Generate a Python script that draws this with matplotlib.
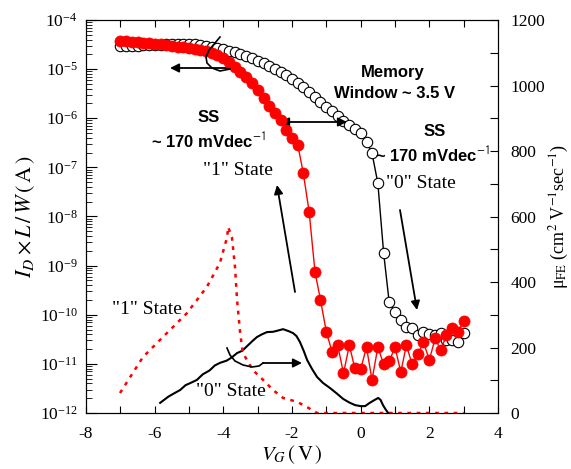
# Transfer curves and field-effect mobility, "0" and "1" memory states
import numpy as np
import matplotlib
matplotlib.use("Agg")
import matplotlib.pyplot as plt
from matplotlib.lines import Line2D
from matplotlib.ticker import MultipleLocator, LogLocator, NullFormatter

plt.rcParams['font.family'] = 'serif'
plt.rcParams['font.serif'] = ['Liberation Serif', 'DejaVu Serif']
plt.rcParams['mathtext.fontset'] = 'stix'
plt.rcParams['axes.unicode_minus'] = False

# gate voltage sweep (V)
vg = [-7.00, -6.83, -6.67, -6.50, -6.33, -6.17, -6.00, -5.83, -5.67, -5.50,
      -5.33, -5.17, -5.00, -4.83, -4.67, -4.50, -4.33, -4.17, -4.00, -3.83,
      -3.67, -3.50, -3.33, -3.17, -3.00, -2.83, -2.67, -2.50, -2.33, -2.17,
      -2.00, -1.83, -1.67, -1.50, -1.33, -1.17, -1.00, -0.83, -0.67, -0.50,
      -0.33, -0.17, 0.00, 0.17, 0.33, 0.50, 0.67, 0.83, 1.00, 1.17,
      1.33, 1.50, 1.67, 1.83, 2.00, 2.17, 2.33, 2.50, 2.67, 2.83, 3.00]

# log10(ID x L/W) for "0" state (open circles)
log_id_0 = [-4.53, -4.53, -4.53, -4.53, -4.51, -4.51, -4.51, -4.51, -4.49, -4.49,
            -4.49, -4.49, -4.49, -4.49, -4.51, -4.53, -4.55, -4.57, -4.59, -4.63,
            -4.65, -4.69, -4.73, -4.77, -4.84, -4.88, -4.94, -5.00, -5.06, -5.12,
            -5.20, -5.28, -5.36, -5.47, -5.57, -5.67, -5.77, -5.85, -5.96, -6.06,
            -6.14, -6.22, -6.30, -6.48, -6.71, -7.32, -8.75, -9.74, -9.95, -10.11,
            -10.25, -10.27, -10.42, -10.35, -10.40, -10.42, -10.37, -10.52, -10.52, -10.56, -10.37]

# log10(ID x L/W) for "1" state (red filled circles)
log_id_1 = [-4.43, -4.43, -4.45, -4.45, -4.47, -4.47, -4.49, -4.49, -4.51, -4.53,
            -4.55, -4.55, -4.57, -4.59, -4.61, -4.63, -4.67, -4.71, -4.77, -4.86,
            -4.96, -5.06, -5.16, -5.28, -5.43, -5.59, -5.75, -5.89, -6.04, -6.24,
            -6.40, -6.55, -7.12, -7.91, -9.13, -9.70, -10.35, -10.76, -10.62, -11.19,
            -10.62, -11.09, -11.11, -10.66, -11.33, -10.66, -11.01, -10.95, -10.66, -11.17,
            -10.62, -11.01, -10.80, -10.56, -10.92, -10.48, -10.72, -10.42, -10.27, -10.35, -10.13]

# mobility, "0" state (black solid)
vg_mu_0 = [-5.84, -5.6, -5.4, -5.26, -5.1, -4.95, -4.77, -4.6, -4.4, -4.25,
           -4.10, -3.9, -3.75, -3.6, -3.45, -3.3, -3.15, -3.02, -2.88, -2.73,
           -2.55, -2.4, -2.26, -2.1, -1.97, -1.87, -1.77, -1.66, -1.56, -1.42,
           -1.27, -1.1, -0.89, -0.7, -0.51, -0.33, -0.16, 0.0, 0.13, 0.25,
           0.36, 0.51, 0.58, 0.65, 0.72, 0.80, 0.85]
mu_0 = [31, 50, 62, 70, 85, 92, 101, 118, 130, 145,
        153, 160, 170, 183, 190, 205, 220, 232, 240, 247,
        248, 252, 256, 250, 244, 235, 217, 190, 162, 135,
        110, 92, 76, 60, 43, 32, 24, 21, 21, 30,
        37, 46, 40, 24, 12, 0, 0]

# mobility, "1" state (red dotted)
vg_mu_1 = [-7.01, -6.34, -5.76, -5.06, -4.48, -4.10, -3.89, -3.86, -3.75, -3.66,
           -3.60, -3.51, -3.43, -3.14, -2.84, -2.55, -2.26, -1.85, -1.56, -1.27, 3.0]
mu_1 = [61, 171, 232, 305, 385, 458, 537, 568, 537, 446,
        345, 244, 183, 131, 101, 70, 46, 34, 18, 0, 0]

W, H = 571, 469


def fpx(x, y):
    # pixel position (from top-left) -> figure fraction
    return (x / W, 1 - y / H)


fig = plt.figure(figsize=(W / 100, H / 100), dpi=100)
ax = fig.add_axes([86 / W, 56 / H, 412 / W, 393 / H])
ax2 = ax.twinx()

ax.plot(vg, 10.0 ** np.array(log_id_0), '-o', color='black', lw=1.0,
        ms=7.5, mfc='white', mec='black', mew=0.8, zorder=3)
ax.plot(vg, 10.0 ** np.array(log_id_1), '-o', color='red', lw=1.0,
        ms=8, mfc='red', mec='red', mew=0.5, zorder=4)

ax2.plot(vg_mu_0, mu_0, '-', color='black', lw=1.5)
ax2.plot(vg_mu_1, mu_1, color='red', lw=1.8, linestyle=(0, (1.5, 2.2)))

ax.set_yscale('log')
ax.set_xlim(-8, 4)
ax.set_ylim(1e-12, 1e-4)
ax2.set_ylim(0, 1200)

ax.xaxis.set_major_locator(MultipleLocator(2))
ax.xaxis.set_minor_locator(MultipleLocator(1))
ax.yaxis.set_major_locator(LogLocator(base=10, numticks=20))
ax.yaxis.set_minor_locator(LogLocator(base=10, subs=np.arange(2, 10), numticks=20))
ax.yaxis.set_minor_formatter(NullFormatter())
ax2.yaxis.set_major_locator(MultipleLocator(200))
ax2.yaxis.set_minor_locator(MultipleLocator(100))

ax.tick_params(axis='x', which='both', direction='in', top=True, length=5, width=0.8,
               labelsize=12.5, pad=9)
ax.tick_params(axis='y', which='major', direction='in', right=False, length=8, width=0.8,
               labelsize=12.5, pad=6)
ax.tick_params(axis='y', which='minor', direction='in', right=False, length=4, width=0.6)
ax2.tick_params(axis='y', which='both', direction='in', length=6, width=0.8,
                labelsize=12.5, pad=9)

ax.set_xlabel(r'$V_{G}\,(\,\mathrm{V}\,)$', fontsize=15, labelpad=1)
ax.set_ylabel(r'$I_{D}\times L\,/\,W\,(\,\mathrm{A}\,)$', fontsize=16, labelpad=2)
ax2.set_ylabel('μ$_{\\mathrm{FE}}$ (cm$^{2}$ V$^{-1}$sec$^{-1}$)', fontsize=13, labelpad=2)

# annotations
bold = dict(fontfamily='Liberation Sans', fontweight='bold', fontsize=12,
            ha='center', va='center')
serif = dict(fontsize=14, ha='center', va='center')
fig.text(*fpx(209, 118), 'SS', **bold)
fig.text(*fpx(208, 141), r'~ 170 mVdec$^{\mathsf{-1}}$', **bold)
fig.text(*fpx(393, 72), 'Memory', **bold)
fig.text(*fpx(395, 93), 'Window ~ 3.5 V', **bold)
fig.text(*fpx(435, 132), 'SS', **bold)
fig.text(*fpx(432, 155), r'~ 170 mVdec$^{\mathsf{-1}}$', **bold)
fig.text(*fpx(238, 170), '"1" State', **serif)
fig.text(*fpx(421, 183), '"0" State', **serif)
fig.text(*fpx(147, 310), '"1" State', **serif)
fig.text(*fpx(231, 391), '"0" State', **serif)

arrow = dict(arrowstyle='-|>', color='black', lw=1.3, mutation_scale=13, shrinkA=0, shrinkB=0)
dbl = dict(arrowstyle='<|-|>', color='black', lw=1.3, mutation_scale=13, shrinkA=0, shrinkB=0)
ax.annotate('', xy=fpx(170, 68), xytext=fpx(230, 68), xycoords='figure fraction',
            textcoords='figure fraction', arrowprops=arrow)
ax.annotate('', xy=fpx(302, 363), xytext=fpx(263, 363), xycoords='figure fraction',
            textcoords='figure fraction', arrowprops=arrow)
ax.annotate('', xy=fpx(280, 122), xytext=fpx(347, 122), xycoords='figure fraction',
            textcoords='figure fraction', arrowprops=dbl)
ax.annotate('', xy=fpx(277, 185), xytext=fpx(295, 292), xycoords='figure fraction',
            textcoords='figure fraction', arrowprops=arrow)
ax.annotate('', xy=fpx(417, 310), xytext=fpx(400, 210), xycoords='figure fraction',
            textcoords='figure fraction', arrowprops=arrow)

# curls marking which axis each curve belongs to
curl_top = [(220, 37), (215, 43), (209, 50), (206, 57), (207, 63), (212, 68), (220, 71), (230, 69)]
curl_bot = [(227, 348), (230, 355), (235, 361), (243, 365), (252, 367), (259, 366), (263, 363)]
for pts in (curl_top, curl_bot):
    xs = [fpx(x, y)[0] for x, y in pts]
    ys = [fpx(x, y)[1] for x, y in pts]
    fig.add_artist(Line2D(xs, ys, transform=fig.transFigure, color='black', lw=1.2))

fig.savefig('out.png', dpi=100)
